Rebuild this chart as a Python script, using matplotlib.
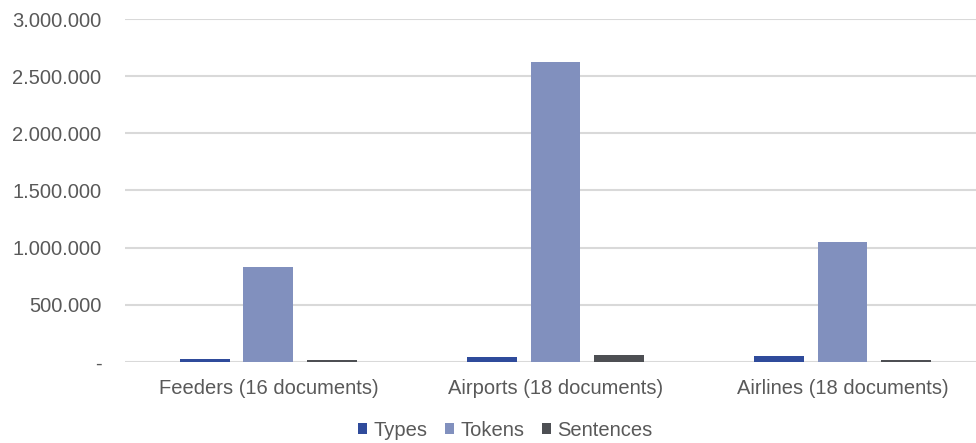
import numpy as np
import matplotlib.pyplot as plt
from matplotlib.ticker import FuncFormatter

plt.rcParams['font.family'] = ['Liberation Sans', 'DejaVu Sans']

categories = ['Feeders (16 documents)', 'Airports (18 documents)', 'Airlines (18 documents)']
types = [26000, 45000, 50000]
tokens = [831000, 2624000, 1049000]
sentences = [15000, 61000, 15000]

series = [('Types', types, '#2f4b9b'),
          ('Tokens', tokens, '#8190be'),
          ('Sentences', sentences, '#4d4f53')]

fig = plt.figure(figsize=(9.76, 4.43), dpi=100)
ax = fig.add_axes([0.128, 0.183, 0.872, 0.774])

x = np.arange(len(categories))
width = 0.174
step = 0.221
for i, (name, vals, col) in enumerate(series):
    ax.bar(x + (i - 1) * step, vals, width, color=col, label=name, zorder=3)

ax.set_xlim(-0.5, 2.465)
ax.set_ylim(0, 3000000)
ax.set_yticks(np.arange(0, 3000001, 500000))

def fmt(v, pos):
    if v == 0:
        return '-'
    return '{:,.0f}'.format(v).replace(',', '.')

ax.yaxis.set_major_formatter(FuncFormatter(fmt))
ax.grid(axis='y', color='#d9d9d9', linewidth=1.5, zorder=0)
for s in ax.spines.values():
    s.set_visible(False)
ax.tick_params(axis='both', length=0, labelsize=14.5, colors='#595959')
ax.tick_params(axis='y', pad=17)
ax.tick_params(axis='x', pad=12)
ax.set_xticks(x)
ax.set_xticklabels(categories)

leg = ax.legend(loc='center', bbox_to_anchor=(0.447, -0.2),
                ncol=3, frameon=False, fontsize=14.5, handlelength=0.45, handleheight=0.45,
                handletextpad=0.3, columnspacing=0.9)
for t in leg.get_texts():
    t.set_color('#595959')

fig.savefig('out.png', dpi=100)
